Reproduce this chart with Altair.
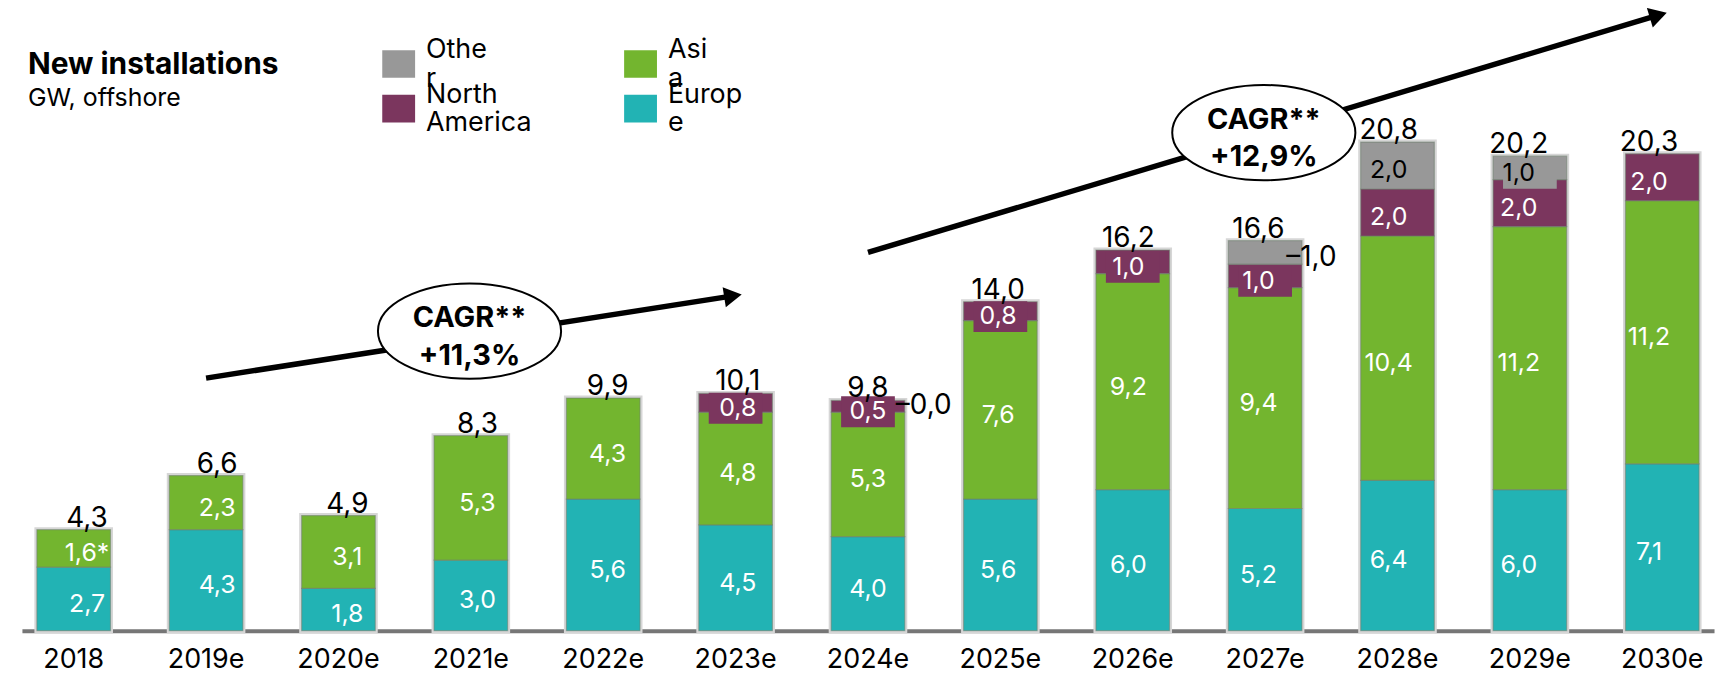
import math
import altair as alt
import pandas as pd

# ---------------- data ----------------
YEARS = ["2018", "2019e", "2020e", "2021e", "2022e", "2023e", "2024e",
         "2025e", "2026e", "2027e", "2028e", "2029e", "2030e"]
EUROPE = [2.7, 4.3, 1.8, 3.0, 5.6, 4.5, 4.0, 5.6, 6.0, 5.2, 6.4, 6.0, 7.1]
ASIA = [1.6, 2.3, 3.1, 5.3, 4.3, 4.8, 5.3, 7.6, 9.2, 9.4, 10.4, 11.2, 11.2]
NORTH_AMERICA = [0, 0, 0, 0, 0, 0.8, 0.5, 0.8, 1.0, 1.0, 2.0, 2.0, 2.0]
OTHER = [0, 0, 0, 0, 0, 0, 0.0, 0, 0, 1.0, 2.0, 1.0, 0]
TOTALS = [4.3, 6.6, 4.9, 8.3, 9.9, 10.1, 9.8, 14.0, 16.2, 16.6, 20.8, 20.2, 20.3]
ASIA_NOTE = ["*", "", "", "", "", "", "", "", "", "", "", "", ""]
OTHER_LABEL_SIDE = ["", "", "", "", "", "", "out", "", "", "out", "in", "in", ""]

CAGR_TEXT = ["CAGR**\n+11,3%", "CAGR**\n+12,9%"]
ARROW_X1 = [1.0, 6.0]      # category index
ARROW_Y1 = [10.75, 16.1]   # GW
ARROW_X2 = [4.98, 11.97]
ARROW_Y2 = [14.25, 26.2]
ELLIPSE_X = [2.99, 8.99]
ELLIPSE_Y = [12.75, 21.2]

# ---------------- style ----------------
FONT = "Inter"
REGIONS_STACK = ["Europe", "Asia", "North America", "Other"]
LEGEND_ORDER = ["Other", "North America", "Asia", "Europe"]
COLOR = {"Europe": "#22b3b4", "Asia": "#73b52f",
         "North America": "#7b365e", "Other": "#989898"}

W, H = 1700, 624
PAD_INNER, PAD_OUTER = 0.444, 0.113
Y_MAX = 26.44
N = len(YEARS)
STEP = W / (N - PAD_INNER + 2 * PAD_OUTER)
FIRST = PAD_OUTER + (1 - PAD_INNER) / 2
IX_DOMAIN = [-FIRST, (N - PAD_INNER + 2 * PAD_OUTER) - FIRST]
PX_PER_GW = H / Y_MAX

series = {"Europe": EUROPE, "Asia": ASIA,
          "North America": NORTH_AMERICA, "Other": OTHER}


def fmt(v):
    return f"{v:.1f}".replace(".", ",")


rows = []
for i, yr in enumerate(YEARS):
    base = 0.0
    for k, reg in enumerate(REGIONS_STACK):
        v = series[reg][i]
        lo, hi = base, base + v
        base = hi
        inside = (reg in ("Europe", "Asia")) or (reg == "North America" and v > 0) \
            or (reg == "Other" and OTHER_LABEL_SIDE[i] == "in")
        outside = reg == "Other" and OTHER_LABEL_SIDE[i] == "out"
        note = ASIA_NOTE[i] if reg == "Asia" else ""
        rows.append(dict(year=yr, ix=i, region=reg, order=k, value=v,
                         y0=lo, y1=hi, mid=(lo + hi) / 2,
                         label=fmt(v) + note,
                         out_label="\u2013" + fmt(v),
                         inside=inside, outside=outside,
                         box=inside and v <= 1.0 and reg in ("North America", "Other"),
                         hex=COLOR[reg],
                         tcolor="#000000" if reg == "Other" else "#ffffff"))
seg = pd.DataFrame(rows)
bars_df = seg[seg["value"] > 0]
inside_df = seg[seg["inside"]]
outside_df = seg[seg["outside"]]
box_df = seg[seg["box"]]
tot_df = pd.DataFrame({"year": YEARS, "total": TOTALS,
                       "label": [fmt(t) for t in TOTALS]})

ann = pd.DataFrame({"x1": ARROW_X1, "y1": ARROW_Y1, "x2": ARROW_X2, "y2": ARROW_Y2,
                    "ex": ELLIPSE_X, "ey": ELLIPSE_Y, "text": CAGR_TEXT})
ann["angle"] = [
    (math.degrees(math.atan2(-(b2 - b1) * PX_PER_GW, (a2 - a1) * STEP)) + 360) % 360
    for a1, b1, a2, b2 in zip(ARROW_X1, ARROW_Y1, ARROW_X2, ARROW_Y2)]

# ---------------- scales ----------------
band = alt.Scale(domain=YEARS, paddingInner=PAD_INNER, paddingOuter=PAD_OUTER)
x_axis = alt.X("year:N", scale=band, sort=YEARS,
               axis=alt.Axis(title=None, labelAngle=0, labelFont=FONT, labelFontSize=27,
                             labelColor="#000000", labelPadding=16, ticks=False,
                             domainColor="#767676", domainWidth=4))
x_noaxis = alt.X("year:N", scale=band, sort=YEARS, axis=None)
yscale = alt.Scale(domain=[0, Y_MAX], nice=False, zero=True)
ix_scale = alt.Scale(domain=IX_DOMAIN, nice=False, zero=False)
cscale = alt.Scale(domain=LEGEND_ORDER, range=[COLOR[r] for r in LEGEND_ORDER])

legend = alt.Legend(
    title=None, orient="none", legendX=362, legendY=38, columns=2, direction="vertical",
    symbolType="M -1 -0.84 H 1 V 0.84 H -1 Z", symbolSize=1089,
    symbolStrokeWidth=0, symbolOpacity=1,
    labelFont=FONT, labelFontSize=27, labelColor="#000000", labelOffset=11,
    labelBaseline="bottom",
    columnPadding=93, rowPadding=-52, padding=0,
    labelExpr=("datum.label == 'Other' ? ['Othe', 'r'] : "
               "datum.label == 'Asia' ? ['Asi', 'a'] : "
               "datum.label == 'Europe' ? ['Europ', 'e'] : ['North', 'America']"))

# ---------------- layers ----------------
shadow = alt.Chart(tot_df).mark_bar(color="#d6d6d6", stroke="#d6d6d6", strokeWidth=5).encode(
    x=x_axis, y=alt.Y("total:Q", scale=yscale, axis=None))

bars = alt.Chart(bars_df).mark_bar(stroke="#6f7f6f", strokeWidth=1.2, strokeOpacity=0.55).encode(
    x=x_noaxis,
    y=alt.Y("y0:Q", scale=yscale, axis=None), y2="y1:Q",
    color=alt.Color("region:N", scale=cscale, legend=legend))

boxes = alt.Chart(box_df).mark_bar(width=alt.RelativeBandSize(0.73), yOffset=-10, y2Offset=21).encode(
    x=x_noaxis, y=alt.Y("mid:Q", scale=yscale, axis=None), y2="mid:Q",
    color=alt.Color("hex:N", scale=None))

in_labels = alt.Chart(inside_df).mark_text(font=FONT, fontSize=25, baseline="middle", dy=5).encode(
    x=x_noaxis, y=alt.Y("mid:Q", scale=yscale, axis=None), text="label:N",
    color=alt.Color("tcolor:N", scale=None))

out_labels = alt.Chart(outside_df).mark_text(font=FONT, fontSize=28, baseline="middle",
                                             align="left", dx=28, dy=6, color="#000000").encode(
    x=x_noaxis, y=alt.Y("mid:Q", scale=yscale, axis=None), text="out_label:N")

tot_labels = alt.Chart(tot_df).mark_text(font=FONT, fontSize=28, baseline="alphabetic",
                                         dy=-3, color="#000000").encode(
    x=x_noaxis, y=alt.Y("total:Q", scale=yscale, axis=None), text="label:N")

arrows = alt.Chart(ann).mark_rule(color="#000000", strokeWidth=5.5).encode(
    x=alt.X("x1:Q", scale=ix_scale, axis=None), x2="x2:Q",
    y=alt.Y("y1:Q", scale=yscale, axis=None), y2="y2:Q")

heads = alt.Chart(ann).mark_point(shape="triangle-right", filled=True, size=420,
                                  color="#000000", opacity=1).encode(
    x=alt.X("x2:Q", scale=ix_scale, axis=None),
    y=alt.Y("y2:Q", scale=yscale, axis=None), angle=alt.Angle("angle:Q", scale=None))

ellipse_path = "M -1 0 A 1 0.52 0 1 1 1 0 A 1 0.52 0 1 1 -1 0 Z"
ellipses = alt.Chart(ann).mark_point(shape=ellipse_path, size=184 * 184, filled=True,
                                     fill="#ffffff", stroke="#000000", strokeWidth=2,
                                     opacity=1, fillOpacity=1).encode(
    x=alt.X("ex:Q", scale=ix_scale, axis=None),
    y=alt.Y("ey:Q", scale=yscale, axis=None))

cagr = alt.Chart(ann).mark_text(font=FONT, fontSize=29, fontWeight="bold", lineBreak="\n",
                                lineHeight=38, baseline="middle", dy=-13, color="#000000").encode(
    x=alt.X("ex:Q", scale=ix_scale, axis=None),
    y=alt.Y("ey:Q", scale=yscale, axis=None), text="text:N")

titles = alt.Chart(pd.DataFrame({"t": ["New installations"]})).mark_text(
    font=FONT, fontSize=30, fontWeight="bold", align="left", baseline="middle",
    color="#000000").encode(x=alt.value(6), y=alt.value(56), text="t:N")
subtitle = alt.Chart(pd.DataFrame({"t": ["GW, offshore"]})).mark_text(
    font=FONT, fontSize=25, align="left", baseline="middle",
    color="#000000").encode(x=alt.value(6), y=alt.value(89), text="t:N")

chart = alt.layer(
    shadow, bars, boxes, in_labels, out_labels, tot_labels,
    arrows, heads, ellipses, cagr, titles, subtitle
).resolve_scale(x="independent").properties(
    width=W, height=H,
    autosize=alt.AutoSizeParams(type="none"),
    padding={"left": 14, "top": 0, "right": 7, "bottom": 41},
).configure_view(stroke=None)

chart.save("out.html", embed_options={"renderer": "svg", "actions": False})
